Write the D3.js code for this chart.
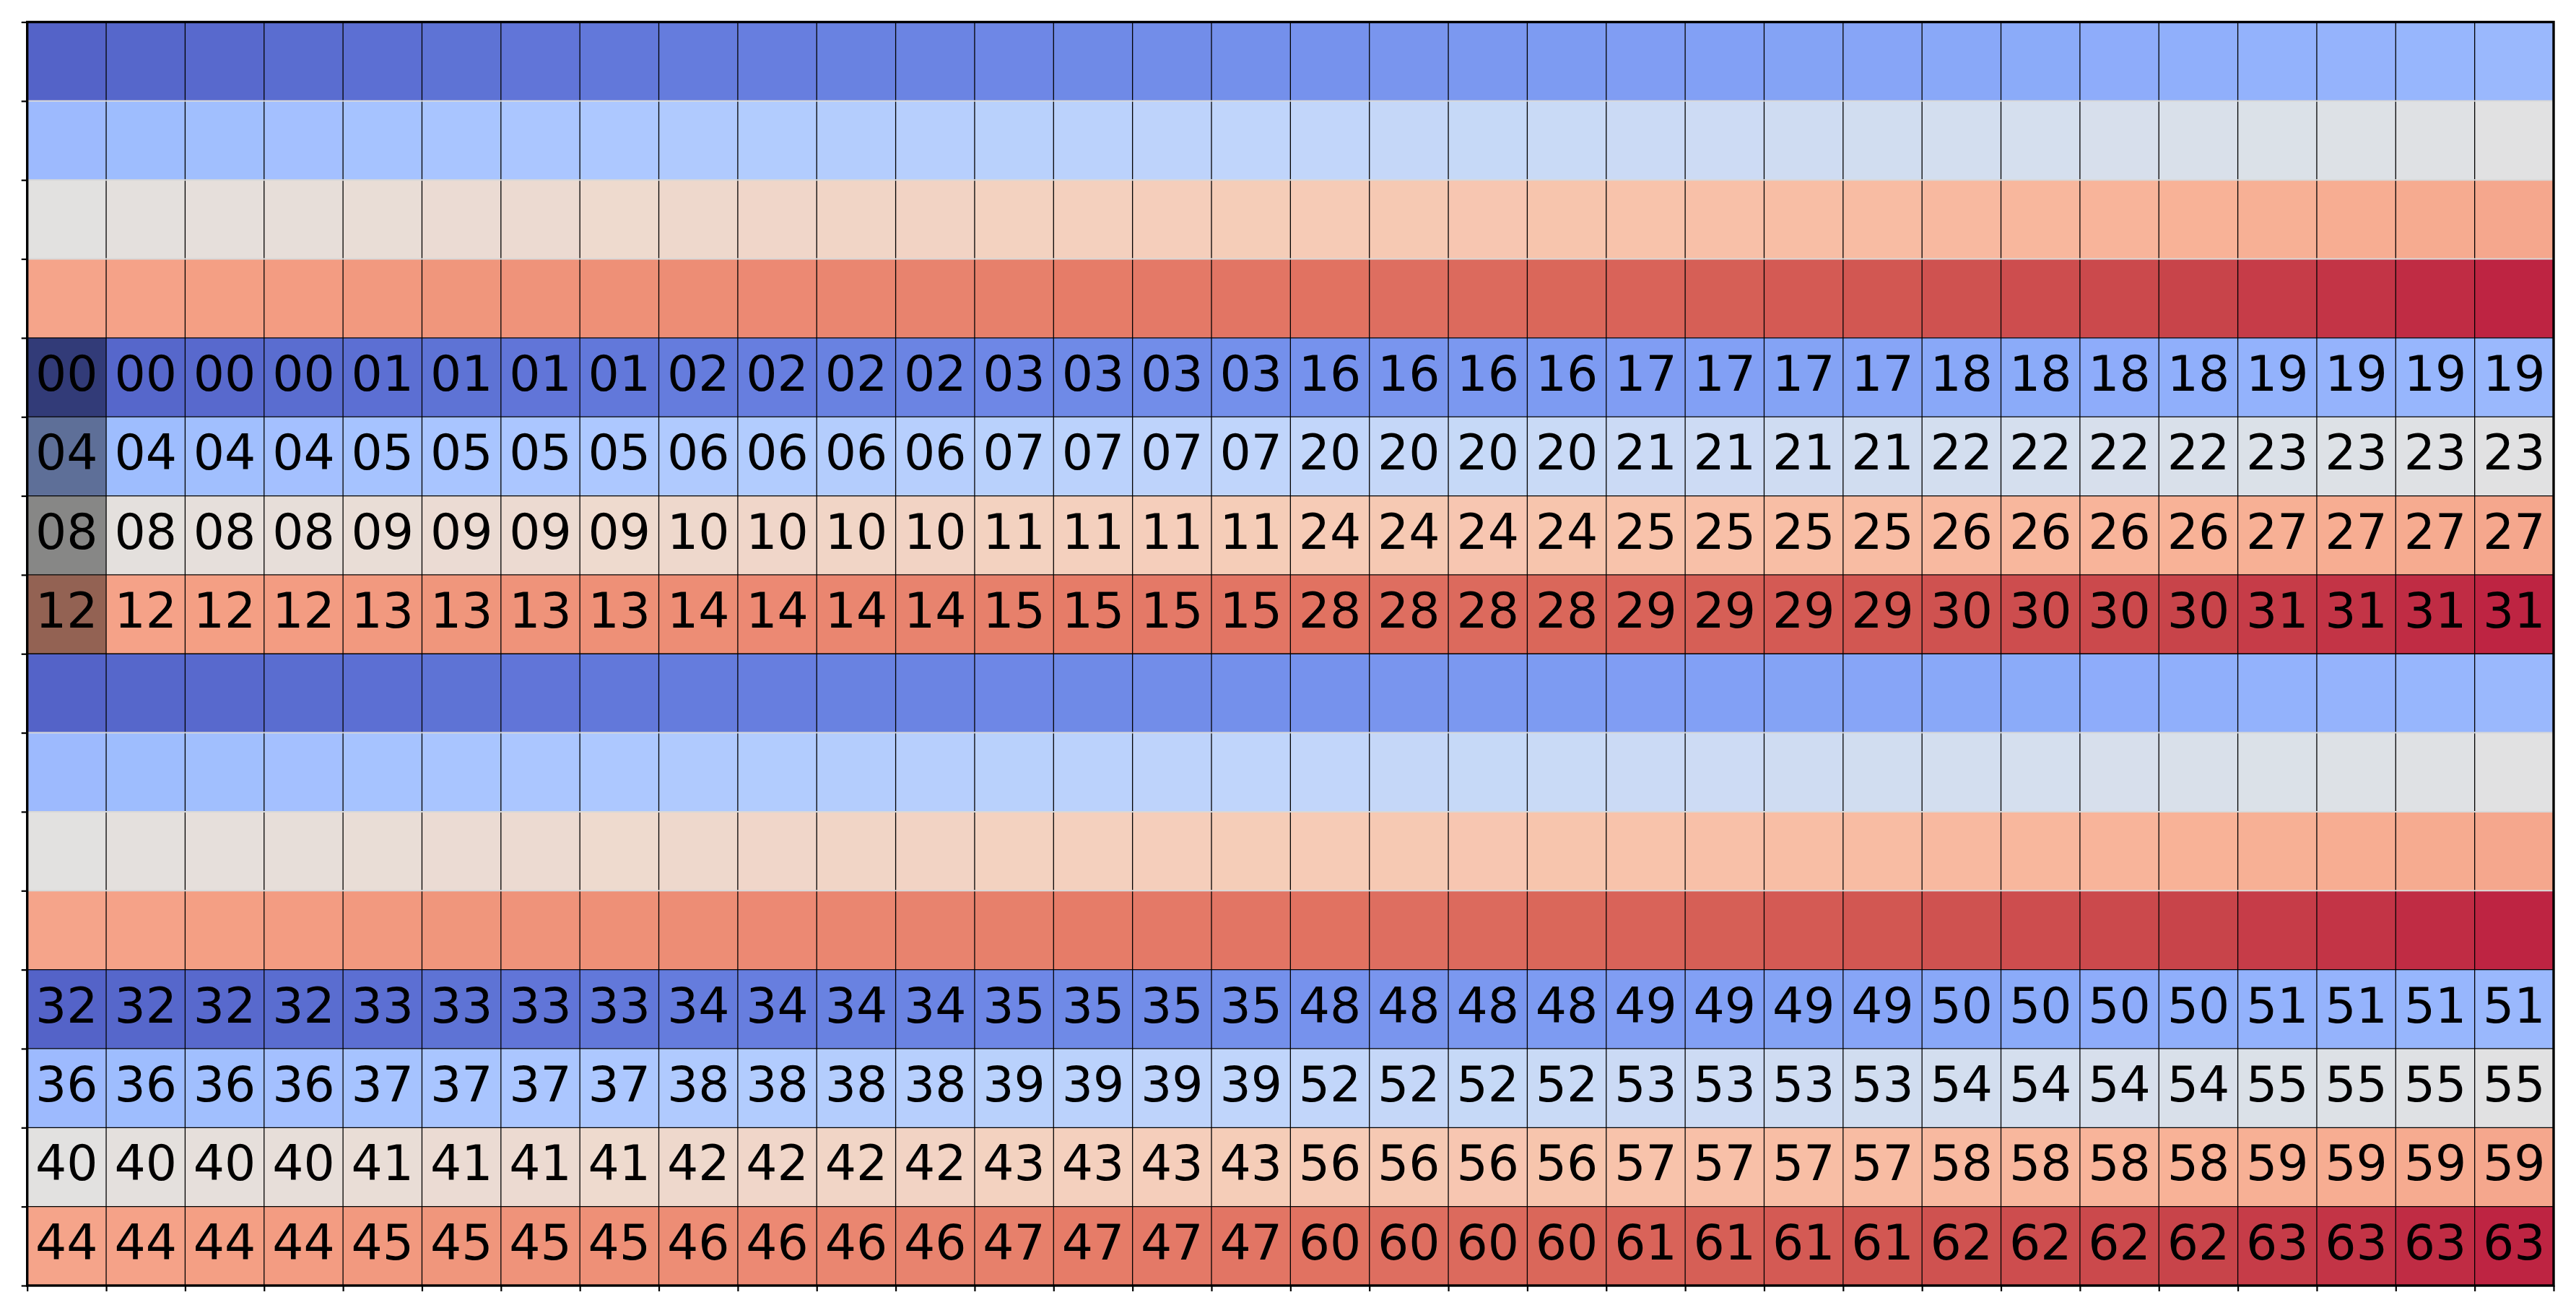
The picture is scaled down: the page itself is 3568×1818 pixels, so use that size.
<!DOCTYPE html>
<html>
<head>
<meta charset="utf-8">
<script src="https://cdn.jsdelivr.net/npm/d3@7"></script>
<style>
  body { margin: 0; background: #fff; }
  svg { display: block; }
</style>
</head>
<body>
<div id="chart"></div>
<script>
// colour index of every cell in a 4-row band (same band repeats 4 times)
const shadeRows = [
  [0,1,2,3,4,5,6,7,8,9,10,11,12,13,14,15,16,17,18,19,20,21,22,23,24,25,26,27,28,29,30,31],
  [32,33,34,35,36,37,38,39,40,41,42,43,44,45,46,47,48,49,50,51,52,53,54,55,56,57,58,59,60,61,62,63],
  [64,65,66,67,68,69,70,71,72,73,74,75,76,77,78,79,80,81,82,83,84,85,86,87,88,89,90,91,92,93,94,95],
  [96,97,98,99,100,101,102,103,104,105,106,107,108,109,110,111,112,113,114,115,116,117,118,119,120,121,122,123,124,125,126,127]
];
// labels, one per group of 4 columns
const upperLabels = [
  [0,1,2,3,16,17,18,19],
  [4,5,6,7,20,21,22,23],
  [8,9,10,11,24,25,26,27],
  [12,13,14,15,28,29,30,31]
];
const lowerLabels = [
  [32,33,34,35,48,49,50,51],
  [36,37,38,39,52,53,54,55],
  [40,41,42,43,56,57,58,59],
  [44,45,46,47,60,61,62,63]
];
// band order top to bottom: null = no text
const bandLabels = [null, upperLabels, null, lowerLabels];
const groupSize = 4;
// highlighted cells [row, col]
const highlighted = [[4,0],[5,0],[6,0],[7,0]];

// matplotlib coolwarm
const coolwarm = [
  [0.2298,0.2987,0.7537],[0.2662,0.3531,0.8015],[0.3039,0.4065,0.8450],[0.3428,0.4588,0.8837],
  [0.3830,0.5094,0.9174],[0.4244,0.5581,0.9456],[0.4667,0.6046,0.9682],[0.5096,0.6483,0.9848],
  [0.5530,0.6889,0.9954],[0.5963,0.7261,0.9998],[0.6392,0.7596,0.9982],[0.6813,0.7890,0.9904],
  [0.7222,0.8140,0.9766],[0.7615,0.8343,0.9569],[0.7987,0.8498,0.9317],[0.8335,0.8602,0.9011],
  [0.8654,0.8654,0.8654],[0.8978,0.8489,0.8209],[0.9241,0.8274,0.7745],[0.9445,0.8009,0.7267],
  [0.9589,0.7698,0.6780],[0.9673,0.7341,0.6288],[0.9700,0.6943,0.5794],[0.9668,0.6504,0.5303],
  [0.9580,0.6028,0.4818],[0.9437,0.5518,0.4342],[0.9239,0.4973,0.3880],[0.8990,0.4396,0.3432],
  [0.8692,0.3783,0.3003],[0.8346,0.3129,0.2593],[0.7956,0.2413,0.2205],[0.7525,0.1572,0.1841],
  [0.7057,0.0156,0.1502]
];

const width = 3568, height = 1818;
const nCols = shadeRows[0].length;
const nRows = shadeRows.length * bandLabels.length;

const x = d3.scaleLinear().domain([0, nCols]).range([37.7, 3537]);
const y = d3.scaleLinear().domain([0, nRows]).range([30.5, 1780]);

const cmap = d3.scaleLinear()
  .domain(coolwarm.map((d, i) => i / (coolwarm.length - 1)))
  .range(coolwarm.map(c => d3.rgb(c[0] * 255, c[1] * 255, c[2] * 255)))
  .interpolate(d3.interpolateRgb);
const norm = d3.scaleLinear().domain([0, 127]).range([0, 1]);

const svg = d3.select("#chart").append("svg")
  .attr("width", width)
  .attr("height", height);

// build cells
let cells = [];
bandLabels.forEach((labels, b) => {
  shadeRows.forEach((row, r) => {
    row.forEach((v, c) => {
      cells.push({
        row: b * shadeRows.length + r,
        col: c,
        value: v,
        label: labels ? labels[r][Math.floor(c / groupSize)] : null
      });
    });
  });
});

const cellG = svg.append("g").attr("class", "cells");
cellG.selectAll("rect")
  .data(cells)
  .enter()
  .append("rect")
  .attr("x", d => x(d.col))
  .attr("y", d => y(d.row))
  .attr("width", x(1) - x(0))
  .attr("height", y(1) - y(0))
  .attr("fill", d => cmap(norm(d.value)))
  .attr("fill-opacity", 0.87);

// dark overlay on highlighted cells
svg.append("g").selectAll("rect")
  .data(highlighted)
  .enter()
  .append("rect")
  .attr("x", d => x(d[1]))
  .attr("y", d => y(d[0]))
  .attr("width", x(1) - x(0))
  .attr("height", y(1) - y(0))
  .attr("fill", "#000")
  .attr("fill-opacity", 0.4);

// cell edges
const edges = svg.append("g").attr("class", "edges");
edges.selectAll("line.v")
  .data(d3.range(1, nCols))
  .enter()
  .append("line")
  .attr("x1", d => x(d)).attr("x2", d => x(d))
  .attr("y1", y(0)).attr("y2", y(nRows))
  .attr("stroke", "#000")
  .attr("stroke-width", 1.3);

const hLines = d3.range(1, nRows);
edges.selectAll("line.h")
  .data(hLines)
  .enter()
  .append("line")
  .attr("x1", x(0)).attr("x2", x(nCols))
  .attr("y1", d => y(d)).attr("y2", d => y(d))
  .attr("stroke", d => {
    // rows bordering a labelled band get black edges
    const above = bandLabels[Math.floor((d - 1) / 4)];
    const below = bandLabels[Math.floor(d / 4)];
    return (above || below) ? "#000" : "#d8d8d8";
  })
  .attr("stroke-width", d => {
    const above = bandLabels[Math.floor((d - 1) / 4)];
    const below = bandLabels[Math.floor(d / 4)];
    return (above || below) ? 1.3 : 2;
  });

// labels
svg.append("g").attr("class", "labels")
  .selectAll("text")
  .data(cells.filter(d => d.label !== null))
  .enter()
  .append("text")
  .attr("x", d => x(d.col + 0.5))
  .attr("y", d => y(d.row + 0.5) + 18.5)
  .attr("text-anchor", "middle")
  .attr("font-family", "DejaVu Sans")
  .attr("font-size", "68px")
  .attr("fill", "#000")
  .text(d => d3.format("02d")(d.label));

// axes: ticks only
const yAxis = d3.axisLeft(y).tickValues(d3.range(nRows + 1)).tickFormat("").tickSize(8).tickSizeOuter(0);
const xAxis = d3.axisBottom(x).tickValues(d3.range(nCols + 1)).tickFormat("").tickSize(8).tickSizeOuter(0);

svg.append("g").attr("transform", `translate(${x(0)},0)`).call(yAxis)
  .call(g => g.select(".domain").remove())
  .selectAll("line").attr("stroke", "#000").attr("stroke-width", 2.2);
svg.append("g").attr("transform", `translate(0,${y(nRows)})`).call(xAxis)
  .call(g => g.select(".domain").remove())
  .selectAll("line").attr("stroke", "#000").attr("stroke-width", 2.2);

// frame
svg.append("rect")
  .attr("x", x(0)).attr("y", y(0))
  .attr("width", x(nCols) - x(0))
  .attr("height", y(nRows) - y(0))
  .attr("fill", "none")
  .attr("stroke", "#000")
  .attr("stroke-width", 3.4);
</script>
</body>
</html>
